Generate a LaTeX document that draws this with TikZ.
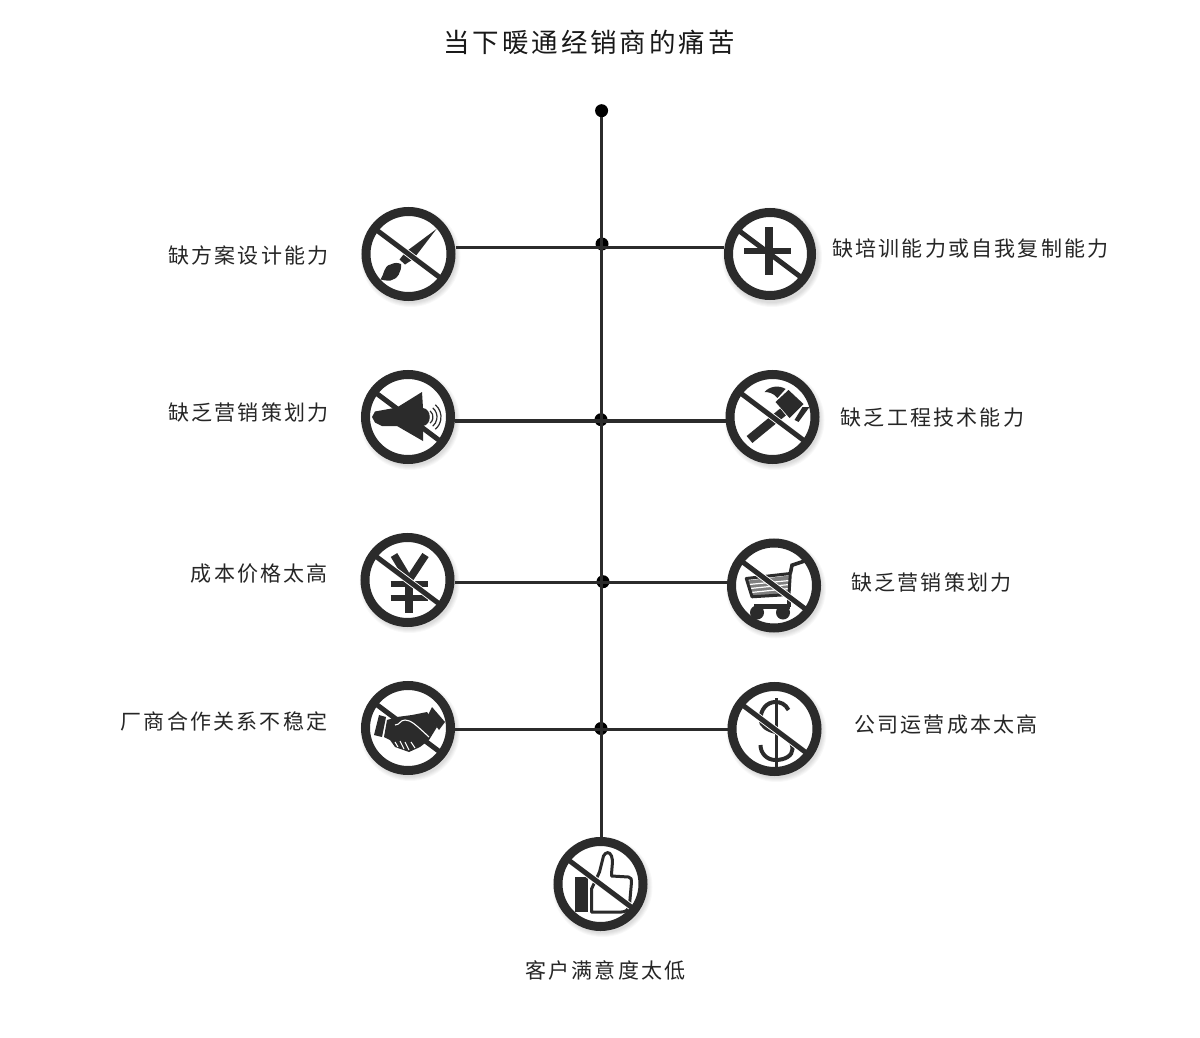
\documentclass[tikz,border=0pt]{standalone}
\usepackage{fontspec}
\usetikzlibrary{positioning,calc}
\newfontfamily\labelfont[LetterSpace=10.5]{Noto Sans CJK SC}
\newfontfamily\titlefont[LetterSpace=11]{Noto Sans CJK SC}
\definecolor{ink}{HTML}{2B2B2B}

% shadow, white disc, icon under the bar, bar, icon over the bar, ring
\newcommand{\nosign}[6]{
    \foreach \shr in {50,49,48,47,46}
        \fill[black, opacity=0.028] ($(#2,#3)+(2,3)$) circle[radius=\shr];
    \fill[white] (#2,#3) circle[radius=44];
    \begin{scope}[shift={(#2,#3)}]
        #4
        \draw[white, line width=6.8] (-33,-24.8) -- (33,24.8);
        \draw[ink, line width=5] (-34,-25.5) -- (34,25.5);
        #5
    \end{scope}
    \node[ring, minimum size=2*#6-9] (#1) at (#2,#3) {};
}

\begin{document}
\begin{tikzpicture}[
    x=1pt, y=-1pt,
    ring/.style={circle, draw=ink, line width=9, inner sep=0pt},
    joint/.style={circle, fill=black, inner sep=0pt, minimum size=13},
    wire/.style={draw=ink, line width=3.2},
    ico/.style={fill=ink, draw=none},
    lbl/.style={font=\labelfont\fontsize{21}{25}\selectfont, text=black!85, inner sep=0pt},
    ttl/.style={font=\titlefont\fontsize{26.5}{31}\selectfont, text=black!90, inner sep=0pt}
]
    \useasboundingbox (0,0) rectangle (1200,1038);
    \fill[white] (0,0) rectangle (1200,1038);

    % Titolo
    \node[ttl] (title) at (589,42) {当下暖通经销商的痛苦};

    % Left column
    \nosign{brush}{408.5}{254}{
        \fill[ico] (28,-25) -- (5,5) -- (-3.5,10.5) -- (-9,5.5) -- (-3,-2) -- cycle;
        \fill[ico] (-28,25.5) .. controls (-24,20) and (-25,12) .. (-18,10.5)
            .. controls (-14,8.5) and (-11,8.5) .. (-7.5,10)
            .. controls (-6.5,17) and (-11,25.5) .. (-18,26.5)
            .. controls (-22,27) and (-25,26) .. (-28,25.5) -- cycle;
    }{}{47}
    \nosign{speaker}{408}{417}{
        \draw[ink, line width=1.2] (17,0)+(-50:8) arc[start angle=-50, end angle=50, radius=8];
        \draw[ink, line width=1.2] (17,0)+(-50:12) arc[start angle=-50, end angle=50, radius=12];
        \draw[ink, line width=1.2] (17,0)+(-50:16) arc[start angle=-50, end angle=50, radius=16];
    }{
        \fill[ico] (-36,0) -- (-33,-5.5) -- (-11,-9.5) -- (14,-25) -- (15,-9)
            .. controls (24,-8) and (24,8) .. (15,9) -- (15,24) -- (-11,9) -- (-26,9) -- (-33,5.5) -- cycle;
    }{47}
    \nosign{yen}{407.5}{580}{
        \draw[ink, line width=7.5] (-13.5,-25) -- (1.5,0);
        \draw[ink, line width=7.5] (18,-25) -- (1.5,0);
        \draw[ink, line width=7.5] (1.5,-2) -- (1.5,33);
        \draw[ink, line width=5.5] (-17,4) -- (20,4);
        \draw[ink, line width=5.5] (-17,18) -- (20,18);
    }{}{47}
    \nosign{shake}{408}{728}{}{
        \fill[ico] (-29,-13) -- (-22,-11) -- (-26,9) -- (-34,7) -- cycle;
        \fill[ico] (24,-21) -- (37,-6) -- (31,2) -- (20,-13) -- cycle;
        \fill[ico] (-21,-8) -- (-11,-11) -- (4,-13) -- (19,-16) -- (29,-1) -- (21,12)
            -- (12,19) -- (1,24) -- (-13,19) -- (-18,12) -- (-24,9) -- cycle;
        \draw[white, line width=1.1] (-13,-3) .. controls (-8,-3) and (-8,-8) .. (-3,-8)
            .. controls (3,-8) and (8,-3) .. (21,9);
        \draw[white, line width=1.1] (-13,14) -- (-10,19);
        \draw[white, line width=1.1] (-8,13) -- (-4,21);
        \draw[white, line width=1.1] (-3,14) -- (1,22);
        \draw[white, line width=1.1] (3,14) -- (7,20);
    }{47}

    % Right column
    \nosign{plus}{770}{254}{}{
        \fill[ico] (-5.5,-27) rectangle (2.5,21);
        \fill[ico] (-26,-6) rectangle (21,0);
    }{46}
    \nosign{hammer}{772.5}{417}{
        \draw[ink, line width=9] (-23,22.5) -- (10.5,-5);
        \fill[ico] (16,-27) -- (31,-13) -- (17,1) -- (3,-15) -- cycle;
        \fill[ico] (-8,-25) .. controls (-3,-31) and (7,-32) .. (13,-28) -- (5,-19) .. controls (1,-24) and (-4,-25) .. (-8,-25) -- cycle;
        \fill[ico] (30,-10) -- (37,-10) -- (26,5) -- (22,3) -- cycle;
    }{}{47}
    \nosign{cart}{774}{585.5}{
        \fill[ink!60] (-26,-5) -- (15.7,-10) -- (15,8) -- (-22,11.3) -- cycle;
        \draw[white, line width=1.2] (-25,-1) -- (15.7,-5);
        \draw[white, line width=1.2] (-24,3) -- (15.5,-1);
        \draw[white, line width=1.2] (-23,7) -- (15.3,3);
        \draw[ink, line width=3, line join=round] (-27.7,-7) -- (16.3,-12) -- (15,9) -- (-22,11.3) -- cycle;
        \draw[ink, line width=3.6] (16.3,-12) -- (18,-20.3) -- (30,-24.3);
        \draw[ink, line width=3.6] (15,9) -- (15,21);
        \draw[ink, line width=4.5] (-20,21) -- (16,21);
        \fill[ico] (-17,27) circle[radius=7];
        \fill[ico] (9,27) circle[radius=7];
    }{}{47}
    \nosign{dollar}{774.5}{729}{
        \draw[ink, line width=3.4] (2,-31) -- (2,38);
        \draw[ink, line width=4] (14,-19) .. controls (11,-25) and (6,-27) .. (1,-27)
            .. controls (-8,-27) and (-14,-19) .. (-14,-10)
            .. controls (-14,-3) and (-7,1) .. (1,3)
            .. controls (10,5) and (18,11) .. (18,20)
            .. controls (18,27) and (10,31) .. (1,31)
            .. controls (-8,31) and (-14,24) .. (-14,16);
    }{}{47}

    % Bottom sign
    \nosign{thumb}{600.5}{884}{
        \fill[ico] (-25.7,-6.7) rectangle (-13,28);
        \draw[ink, line width=3, line join=round, fill=white] (-9,28) -- (-9,5) -- (-1,-12) -- (3,-28)
            .. controls (5,-32) and (9,-33) .. (11,-28)
            .. controls (13,-24) and (11,-15) .. (11,-8) -- (28,-7)
            .. controls (31,-7) and (31,-4) .. (31,-2) -- (29,21)
            .. controls (28,26) and (25,28) .. (21,28) -- cycle;
    }{}{47}

    % Junctions
    \node[joint] (top) at (601.6,110.7) {};
    \node[joint] (joina) at (602,244) {};
    \node[joint] (joinb) at (601,419.7) {};
    \node[joint] (joinc) at (603,581.7) {};
    \node[joint] (joind) at (601,728.5) {};

    % Rows
    \coordinate (rowa) at (600,247.3);
    \coordinate (rowb) at (600,421);
    \coordinate (rowc) at (600,582.7);
    \coordinate (rowd) at (600,729.5);

    % Connectors
    \draw[wire] (top) -- (top |- thumb.north);
    \draw[wire] (brush.east |- rowa) -- (plus.west |- rowa);
    \draw[wire] (speaker.east |- rowb) -- (hammer.west |- rowb);
    \draw[wire] (yen.east |- rowc) -- (cart.west |- rowc);
    \draw[wire] (shake.east |- rowd) -- (dollar.west |- rowd);

    % Labels
    \node[lbl] (brushtxt) at (248.5,255) {缺方案设计能力};
    \node[lbl] (speakertxt) at (248.5,413) {缺乏营销策划力};
    \node[lbl] (yentxt) at (259.5,574) {成本价格太高};
    \node[lbl] (shaketxt) at (224,721) {厂商合作关系不稳定};
    \node[lbl] (plustxt) at (970.5,249) {缺培训能力或自我复制能力};
    \node[lbl] (hammertxt) at (932.5,418) {缺乏工程技术能力};
    \node[lbl] (carttxt) at (931.5,583) {缺乏营销策划力};
    \node[lbl] (dollartxt) at (946,725) {公司运营成本太高};
    \node[lbl] (thumbtxt) at (605.5,970) {客户满意度太低};
\end{tikzpicture}
\end{document}
